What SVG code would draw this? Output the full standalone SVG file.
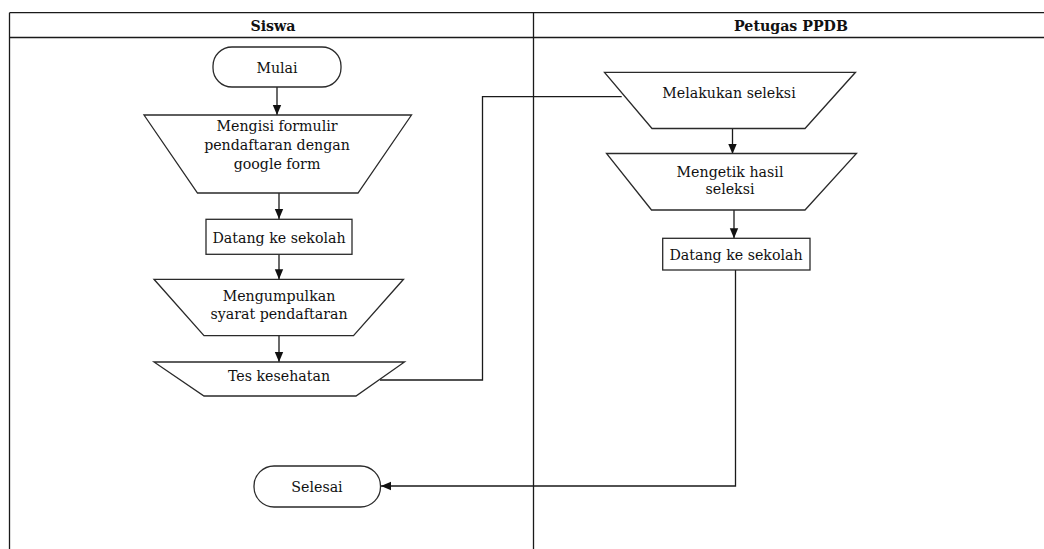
<svg xmlns="http://www.w3.org/2000/svg" width="1044" height="549" viewBox="0 0 1044 549">
  <style>
    .grid { stroke: #1a1a1a; stroke-width: 1.3; fill: none; }
    .shape { stroke: #2a2a2a; stroke-width: 1.3; fill: #ffffff; }
    .conn { stroke: #1a1a1a; stroke-width: 1.3; fill: none; }
    .label { font-family: 'DejaVu Serif', 'Liberation Serif', serif; font-size: 14.2px; fill: #111; text-anchor: middle; }
    .head { font-family: 'DejaVu Serif', 'Liberation Serif', serif; font-size: 14.2px; font-weight: bold; fill: #111; text-anchor: middle; }
  </style>
  <defs>
    <marker id="arrow" markerUnits="userSpaceOnUse" markerWidth="10" markerHeight="10" viewBox="0 0 10 10" refX="10" refY="5" orient="auto">
      <path d="M0,0.8 L10,5 L0,9.2 Z" fill="#111"/>
    </marker>
  </defs>

  <rect width="1044" height="549" fill="#ffffff"/>

  <!-- swimlane table -->
  <g id="lanes">
    <line class="grid" x1="9.5" y1="12.7" x2="1044" y2="12.7"/>
    <line class="grid" x1="9.5" y1="37.5" x2="1044" y2="37.5"/>
    <line class="grid" x1="9.5" y1="12.7" x2="9.5" y2="549"/>
    <line class="grid" x1="533.5" y1="12.7" x2="533.5" y2="549"/>
    <text class="head" x="273" y="31">Siswa</text>
    <text class="head" x="791" y="31">Petugas PPDB</text>
  </g>

  <!-- connectors -->
  <g id="connectors">
    <line class="conn" x1="277" y1="87" x2="277" y2="115" marker-end="url(#arrow)"/>
    <line class="conn" x1="279" y1="193" x2="279" y2="219" marker-end="url(#arrow)"/>
    <line class="conn" x1="279" y1="254.5" x2="279" y2="279.3" marker-end="url(#arrow)"/>
    <line class="conn" x1="279" y1="336" x2="279" y2="362" marker-end="url(#arrow)"/>
    <polyline class="conn" points="380,380 482.5,380 482.5,96.7 621.7,96.7"/>
    <line class="conn" x1="732.5" y1="128.5" x2="732.5" y2="154" marker-end="url(#arrow)"/>
    <line class="conn" x1="734" y1="210" x2="734" y2="238.3" marker-end="url(#arrow)"/>
    <polyline class="conn" points="735.5,270 735.5,486 381,486" marker-end="url(#arrow)"/>
  </g>

  <!-- Siswa lane -->
  <g id="mulai">
    <rect class="shape" x="213" y="47" width="128" height="40" rx="19" ry="19"/>
    <text class="label" x="277" y="73">Mulai</text>
  </g>

  <g id="mengisi-formulir">
    <polygon class="shape" points="144,115 411.5,115 358,193 197.5,193"/>
    <text class="label" x="277" y="131">Mengisi formulir</text>
    <text class="label" x="277" y="150">pendaftaran dengan</text>
    <text class="label" x="277" y="169">google form</text>
  </g>

  <g id="datang-siswa">
    <rect class="shape" x="206" y="219.3" width="146" height="35"/>
    <text class="label" x="279" y="243">Datang ke sekolah</text>
  </g>

  <g id="mengumpulkan">
    <polygon class="shape" points="154,279.3 403.5,279.3 353.5,335.7 204,335.7"/>
    <text class="label" x="279" y="300.5">Mengumpulkan</text>
    <text class="label" x="279" y="318.5">syarat pendaftaran</text>
  </g>

  <g id="tes-kesehatan">
    <polygon class="shape" points="154,362 404.5,362 356,396 204,396"/>
    <text class="label" x="279" y="381">Tes kesehatan</text>
  </g>

  <g id="selesai">
    <rect class="shape" x="254" y="466" width="126.5" height="41" rx="20" ry="20"/>
    <text class="label" x="317" y="492">Selesai</text>
  </g>

  <!-- Petugas PPDB lane -->
  <g id="melakukan-seleksi">
    <polygon class="shape" points="604.5,72.3 855.5,72.3 805,128.5 652,128.5"/>
    <text class="label" x="729" y="97.5">Melakukan seleksi</text>
  </g>

  <g id="mengetik-hasil">
    <polygon class="shape" points="606.5,153.5 856.5,153.5 805,210 651.5,210"/>
    <text class="label" x="730" y="176.5">Mengetik hasil</text>
    <text class="label" x="730" y="194">seleksi</text>
  </g>

  <g id="datang-petugas">
    <rect class="shape" x="662.7" y="238.3" width="147.3" height="31.7"/>
    <text class="label" x="736" y="259.5">Datang ke sekolah</text>
  </g>
</svg>
